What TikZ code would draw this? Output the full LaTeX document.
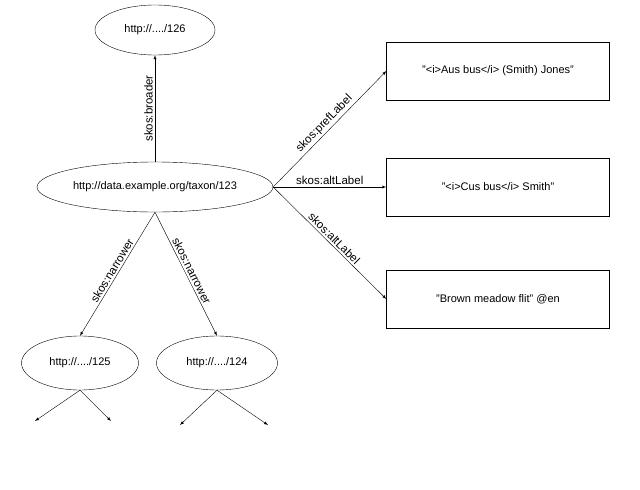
\documentclass[tikz,border=0pt]{standalone}
\usepackage{fontspec}
\setmainfont{Liberation Sans}
\usetikzlibrary{shapes,arrows,positioning,calc}

\begin{document}
\begin{tikzpicture}[x=1pt, y=-1pt, font=\fontsize{11}{13}\selectfont]

% Styles for resources and literals
\tikzstyle{resource}=[ellipse, draw=black, thin, inner sep=0pt]
\tikzstyle{literal}=[rectangle, draw=black, thin, minimum width=223pt, minimum height=58pt]
\tikzstyle{link}=[-latex, thin]
\tikzstyle{lbl}=[font=\fontsize{11.5}{13}\selectfont, sloped, above, inner sep=2pt]

\useasboundingbox (0,0) rectangle (640,490);

% Resources
\node[resource, minimum width=120pt, minimum height=50pt] (top) at (155,30) {http://..../126};
\node[resource, minimum width=236pt, minimum height=50pt] (taxon) at (155,187) {http://data.example.org/taxon/123};
\node[resource, minimum width=117pt, minimum height=54pt] (left) at (80,363) {http://..../125};
\node[resource, minimum width=121pt, minimum height=54pt] (right) at (217,363) {http://..../124};

% Literals
\node[literal] (pref) at (498,71) {"<i>Aus bus</i> (Smith) Jones"};
\node[literal] (alt1) at (498,187) {"<i>Cus bus</i> Smith"};
\node[literal] (alt2) at (498,299) {"Brown meadow flit" @en};

% Free ends below the leaves
\coordinate (l1) at (35,421);
\coordinate (l2) at (111,421);
\coordinate (r1) at (180,425);
\coordinate (r2) at (268,425);

% Arrows
\draw[link] (taxon.north) -- node[font=\fontsize{11.5}{13}\selectfont, rotate=90, anchor=south, inner sep=2pt] {skos:broader} (top.south);
\draw[link] (taxon.east) -- node[lbl] {skos:prefLabel} (pref.west);
\draw[link] (taxon.east) -- node[lbl] {skos:altLabel} (alt1.west);
\draw[link] (taxon.east) -- node[lbl] {skos:altLabel} (alt2.west);
\draw[link] (taxon.south) -- node[lbl] {skos:narrower} (left.north);
\draw[link] (taxon.south) -- node[lbl] {skos:narrower} (right.north);

\draw[link] (left.south) -- (l1);
\draw[link] (left.south) -- (l2);
\draw[link] (right.south) -- (r1);
\draw[link] (right.south) -- (r2);

\end{tikzpicture}
\end{document}
